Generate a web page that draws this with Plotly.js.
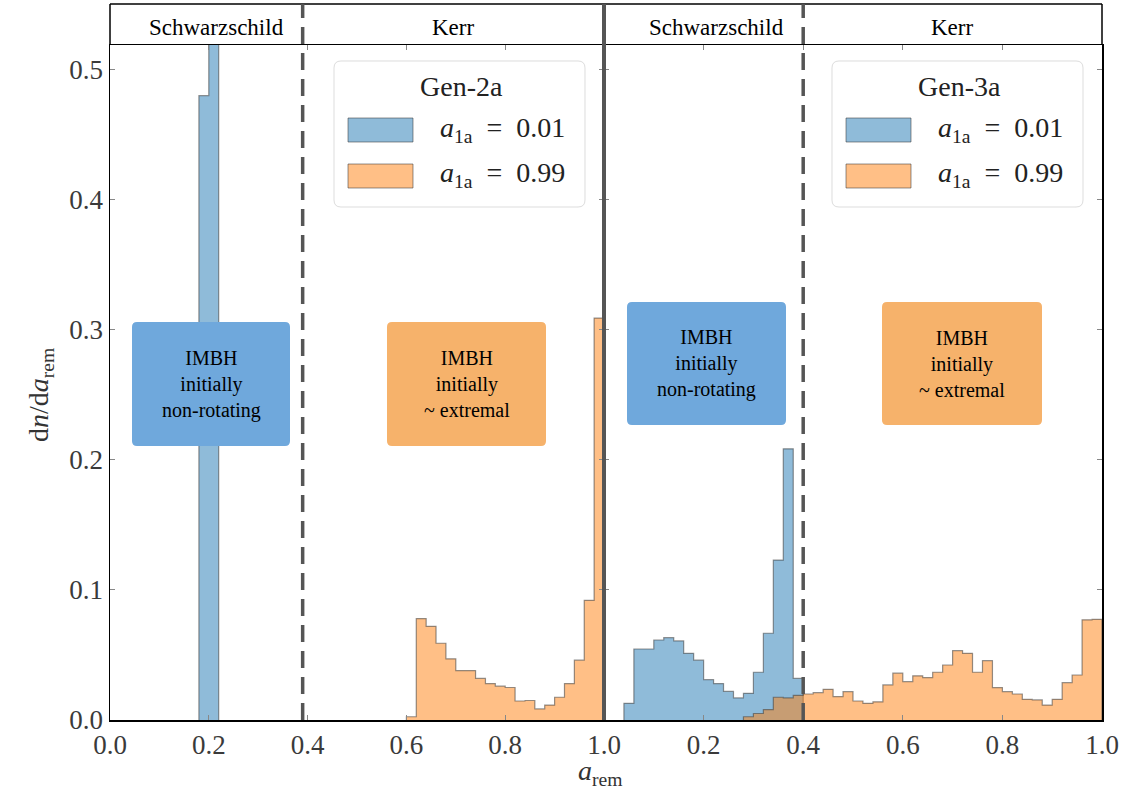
<!DOCTYPE html>
<html><head><meta charset="utf-8">
<script src="https://cdn.plot.ly/plotly-3.0.1.min.js"></script>
<style>html,body{margin:0;padding:0;background:#fff}#chart{width:1123px;height:791px}</style>
</head><body><div id="chart"></div>
<script>
// ---------- data ----------
const BIN_WIDTH = 0.02;
const gen2BlueEdges   = [0.18, 0.20];
const gen2BlueDensity = [0.48, 0.60];
const gen2OrangeEdges   = [0.60,0.62,0.64,0.66,0.68,0.70,0.72,0.74,0.76,0.78,0.80,0.82,0.84,0.86,0.88,0.90,0.92,0.94,0.96,0.98];
const gen2OrangeDensity = [0.0025,0.078,0.072,0.059,0.047,0.038,0.038,0.032,0.028,0.026,0.025,0.0146,0.015,0.0085,0.0115,0.0175,0.028,0.046,0.092,0.309];
const gen3BlueEdges   = [0.04,0.06,0.08,0.10,0.12,0.14,0.16,0.18,0.20,0.22,0.24,0.26,0.28,0.30,0.32,0.34,0.36,0.38];
const gen3BlueDensity = [0.0128,0.0546,0.0546,0.0615,0.0633,0.0608,0.0513,0.046,0.031,0.028,0.022,0.017,0.0205,0.0367,0.0667,0.123,0.2085,0.032];
const gen3OrangeEdges   = [0.28,0.30,0.32,0.34,0.36,0.38,0.40,0.42,0.44,0.46,0.48,0.50,0.52,0.54,0.56,0.58,0.60,0.62,0.64,0.66,0.68,0.70,0.72,0.74,0.76,0.78,0.80,0.82,0.84,0.86,0.88,0.90,0.92,0.94,0.96,0.98];
const gen3OrangeDensity = [0.0025,0.005,0.008,0.0175,0.017,0.019,0.020,0.021,0.0236,0.018,0.0218,0.0146,0.0128,0.014,0.027,0.036,0.0295,0.034,0.0326,0.0367,0.0423,0.0533,0.0513,0.0367,0.0456,0.0249,0.0218,0.020,0.0159,0.0154,0.0115,0.0159,0.0287,0.0346,0.077,0.0774];
const xTicks = [0.0,0.2,0.4,0.6,0.8,1.0];
const yTicks = [0.0,0.1,0.2,0.3,0.4,0.5];
const regionLabels = ["Schwarzschild","Kerr"];
const legendTitles = ["Gen-2a","Gen-3a"];
const seriesLabels = ["<i>a</i><sub>1a</sub>&nbsp; = &nbsp;0.01","<i>a</i><sub>1a</sub>&nbsp; = &nbsp;0.99"];
const boxLabels = ["IMBH<br>initially<br>non-rotating","IMBH<br>initially<br>~ extremal"];
const boundaryA = [0.39, 0.40]; // Schwarzschild / Kerr divide as drawn in each panel

// ---------- styling ----------
const FONT = 'Liberation Serif, serif';
const W=1123, H=791, L=110, R=21, T=45, B=71;
const PW=W-L-R, PH=H-T-B;
const SPLIT = 494/992;
const BLUE_FILL='rgba(31,119,180,0.5)', ORANGE_FILL='rgba(255,127,14,0.5)';
const EDGE='rgba(60,60,60,0.55)';
const BOX_BLUE='#6fa8dc', BOX_ORANGE='#f6b26b';
const px2x = px => (px-L)/PW;
const py2y = py => (H-B-py)/PH;

function step(edges, dens){
  const x=[edges[0]], y=[0];
  for(let i=0;i<edges.length;i++){x.push(edges[i]);y.push(dens[i]);}
  const end=edges[edges.length-1]+BIN_WIDTH;
  x.push(end);y.push(dens[dens.length-1]);
  x.push(end);y.push(0);
  return {x,y};
}
function hist(edges,dens,fill,xa,ya){
  const s=step(edges,dens);
  return {type:'scatter',mode:'lines',x:s.x,y:s.y,xaxis:xa,yaxis:ya,
    line:{shape:'hv',color:EDGE,width:1.2},fill:'tozeroy',fillcolor:fill,
    showlegend:false,hoverinfo:'skip'};
}
const traces=[
  hist(gen2BlueEdges,gen2BlueDensity,BLUE_FILL,'x','y'),
  hist(gen2OrangeEdges,gen2OrangeDensity,ORANGE_FILL,'x','y'),
  hist(gen3BlueEdges,gen3BlueDensity,BLUE_FILL,'x2','y2'),
  hist(gen3OrangeEdges,gen3OrangeDensity,ORANGE_FILL,'x2','y2')
];

function P(px,py){return px2x(px).toFixed(5)+','+py2y(py).toFixed(5);}
function roundRect(x0,y0,x1,y1,r){
  return `M${P(x0+r,y0)} L${P(x1-r,y0)} Q${P(x1,y0)} ${P(x1,y0+r)} L${P(x1,y1-r)} Q${P(x1,y1)} ${P(x1-r,y1)} L${P(x0+r,y1)} Q${P(x0,y1)} ${P(x0,y1-r)} L${P(x0,y0+r)} Q${P(x0,y0)} ${P(x0+r,y0)} Z`;
}

const axisCommon = {
  showgrid:false, zeroline:false, showline:true, linecolor:'#000', linewidth:1.5,
  mirror:'ticks', ticks:'inside', ticklen:5, tickcolor:'#888', tickwidth:1,
  tickfont:{family:FONT,size:27,color:'#3a3a3a'}, tickformat:'.1f'
};
const TOP = py2y(4);
const shapes=[];
const annotations=[];

// header strip
shapes.push({type:'line',xref:'paper',yref:'paper',x0:0,x1:1,y0:TOP,y1:TOP,line:{color:'#000',width:1.5}});
shapes.push({type:'line',xref:'paper',yref:'paper',x0:0,x1:0,y0:1,y1:TOP,line:{color:'#000',width:1.5}});
shapes.push({type:'line',xref:'paper',yref:'paper',x0:1,x1:1,y0:1,y1:TOP,line:{color:'#000',width:1.5}});
// panel separator
shapes.push({type:'line',xref:'paper',yref:'paper',x0:SPLIT,x1:SPLIT,y0:0,y1:TOP,line:{color:'#555',width:4}});
// Schwarzschild/Kerr dividers
shapes.push({type:'line',xref:'x',yref:'paper',x0:boundaryA[0],x1:boundaryA[0],y0:0,y1:TOP,line:{color:'#555',width:3.5,dash:'17px,9px'}});
shapes.push({type:'line',xref:'x2',yref:'paper',x0:boundaryA[1],x1:boundaryA[1],y0:0,y1:TOP,line:{color:'#555',width:3.5,dash:'17px,9px'}});

const headerFont={family:FONT,size:23,color:'#000'};
[[216,0],[453,1],[716,0],[952,1]].forEach(([px,i])=>{
  annotations.push({xref:'paper',yref:'paper',x:px2x(px),y:py2y(27),text:regionLabels[i],showarrow:false,
    xanchor:'center',yanchor:'middle',font:headerFont});
});

// legends (one per panel)
[[334,0],[832,1]].forEach(([lx,i])=>{
  shapes.push({type:'path',xref:'paper',yref:'paper',path:roundRect(lx,61,lx+251,207,7),
    fillcolor:'rgba(255,255,255,0.85)',line:{color:'#ddd',width:1},layer:'above'});
  annotations.push({xref:'paper',yref:'paper',x:px2x(lx+127),y:py2y(86),text:legendTitles[i],showarrow:false,
    xanchor:'center',yanchor:'middle',font:{family:FONT,size:28,color:'#222'}});
  [[118,BLUE_FILL],[164,ORANGE_FILL]].forEach(([py,c],k)=>{
    shapes.push({type:'rect',xref:'paper',yref:'paper',x0:px2x(lx+14),x1:px2x(lx+79),y0:py2y(py),y1:py2y(py+24),
      fillcolor:c,line:{color:EDGE,width:1},layer:'above'});
    annotations.push({xref:'paper',yref:'paper',x:px2x(lx+104),y:py2y(py+11),text:seriesLabels[k],showarrow:false,
      xanchor:'left',yanchor:'middle',font:{family:FONT,size:28,color:'#222'}});
  });
});

// label boxes
[[132,322,290,446,BOX_BLUE,0],[387,322,546,446,BOX_ORANGE,1],[627,302,786,425,BOX_BLUE,0],[882,302,1042,425,BOX_ORANGE,1]].forEach(([x0,y0,x1,y1,c,i])=>{
  shapes.push({type:'path',xref:'paper',yref:'paper',path:roundRect(x0,y0,x1,y1,5),fillcolor:c,line:{width:0},layer:'above'});
  annotations.push({xref:'paper',yref:'paper',x:px2x((x0+x1)/2),y:py2y((y0+y1)/2),text:boxLabels[i],showarrow:false,
    xanchor:'center',yanchor:'middle',align:'center',font:{family:FONT,size:20,color:'#000'}});
});

// axis titles
annotations.push({xref:'paper',yref:'paper',x:px2x(40),y:py2y(395),text:'d<i>n</i>/d<i>a</i><sub>rem</sub>',textangle:-90,
  showarrow:false,xanchor:'center',yanchor:'middle',font:{family:FONT,size:28,color:'#333'}});
annotations.push({xref:'paper',yref:'paper',x:px2x(600),y:py2y(773),text:'<i>a</i><sub>rem</sub>',
  showarrow:false,xanchor:'center',yanchor:'middle',font:{family:FONT,size:28,color:'#333'}});

const layout={
  width:W,height:H,margin:{l:L,r:R,t:T,b:B},paper_bgcolor:'#fff',plot_bgcolor:'#fff',
  showlegend:false,
  xaxis:Object.assign({},axisCommon,{domain:[0,SPLIT],range:[0,1],tickvals:xTicks,anchor:'y'}),
  xaxis2:Object.assign({},axisCommon,{domain:[SPLIT,1],range:[0,1],tickvals:xTicks.slice(1),anchor:'y2'}),
  yaxis:Object.assign({},axisCommon,{domain:[0,1],range:[0,0.519],tickvals:yTicks,anchor:'x'}),
  yaxis2:Object.assign({},axisCommon,{domain:[0,1],matches:'y',tickvals:yTicks,anchor:'x2',showticklabels:false}),
  shapes:shapes,annotations:annotations
};
Plotly.newPlot('chart',traces,layout,{displayModeBar:false,staticPlot:true});
</script></body></html>
